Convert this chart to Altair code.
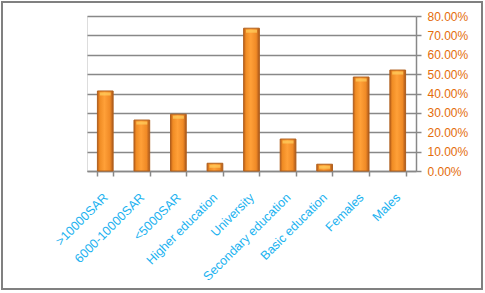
import altair as alt
import pandas as pd

categories = [">10000SAR", "6000-10000SAR", "<5000SAR", "Higher education",
              "University", "Secondary education", "Basic education",
              "Females", "Males"]
values = [0.413, 0.263, 0.293, 0.040, 0.737, 0.165, 0.035, 0.485, 0.521]
tick_values = [0, 0.1, 0.2, 0.3, 0.4, 0.5, 0.6, 0.7, 0.8]

df = pd.DataFrame({"cat": categories, "val": values})

x_enc = alt.X("cat:N", sort=categories, title=None,
              scale=alt.Scale(paddingInner=0.57, paddingOuter=0.285),
              axis=alt.Axis(labelAngle=-45, labelAlign="right", labelBaseline="middle",
                            labelColor="#1BB2F0", labelFont="Liberation Sans",
                            labelFontSize=12.5, labelPadding=19, labelOverlap=False,
                            domainColor="#888888", domainWidth=1.5,
                            tickColor="#888888", tickSize=5, tickWidth=1.5,
                            tickBand="extent", labelOffset=0))
y_enc = alt.Y("val:Q", title=None,
              scale=alt.Scale(domain=[0, 0.8]),
              axis=alt.Axis(orient="right", format=".2%", tickCount=9,
                            values=tick_values,
                            labelColor="#E46C0A", labelFont="Liberation Sans",
                            labelFontSize=12, labelPadding=6, labelOverlap=False,
                            domainColor="#888888", domainWidth=1.5,
                            tickColor="#888888", tickSize=5, tickWidth=1.5,
                            gridColor="#888888", gridWidth=1.5))

grad = alt.Gradient(
    gradient="linear", x1=0, x2=1, y1=0, y2=0,
    stops=[alt.GradientStop(color="#B95C18", offset=0),
           alt.GradientStop(color="#F08C24", offset=0.15),
           alt.GradientStop(color="#FFA038", offset=0.45),
           alt.GradientStop(color="#F08A26", offset=0.8),
           alt.GradientStop(color="#A9561A", offset=1)])

bars = alt.Chart(df).mark_bar(fill=grad, stroke="#B0601E", strokeWidth=1).encode(
    x=x_enc, y=y_enc)

caps = alt.Chart(df).mark_tick(color="#FFD060", thickness=3, size=11, yOffset=3).encode(
    x=x_enc, y=y_enc)

frame = alt.Chart(df).mark_rect(fill=None, stroke="#808080", strokeWidth=1.5).encode(
    x=alt.value(-85), x2=alt.value(395), y=alt.value(-14), y2=alt.value(273))

chart = alt.layer(frame, bars, caps).properties(
    width=329, height=155,
    autosize=alt.AutoSizeParams(type="none"),
    padding={"left": 87, "top": 16, "right": 69, "bottom": 122},
).configure_view(stroke="transparent").configure(background="white")

chart.save("out.html", embed_options={"renderer": "svg", "actions": False})
